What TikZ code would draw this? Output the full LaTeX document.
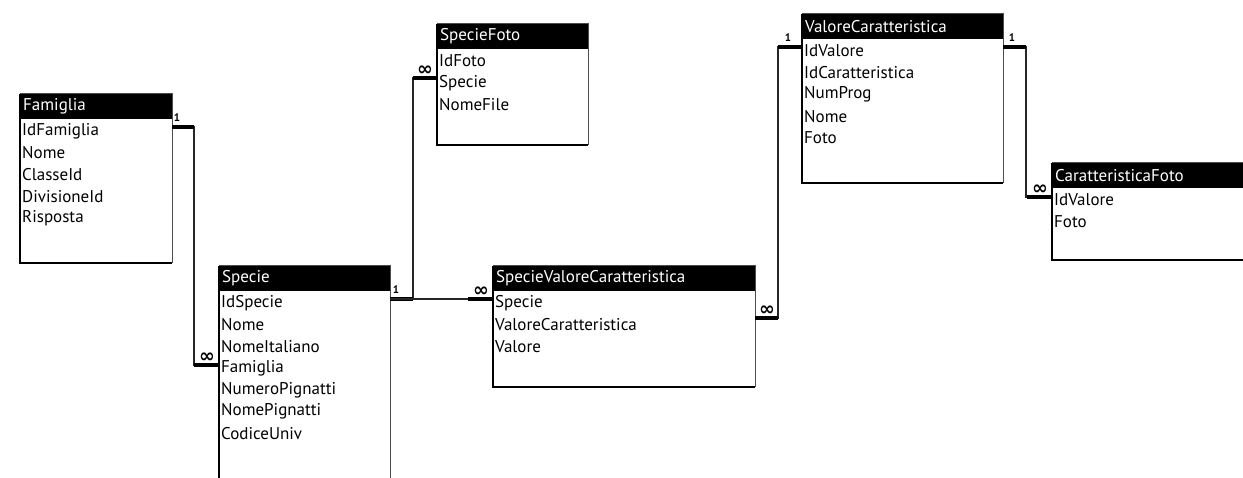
\documentclass[tikz,border=0pt]{standalone}
\usepackage{fontspec}
\setmainfont{PT Sans}
\newfontfamily\symfont{DejaVu Sans}
\usetikzlibrary{calc}
\tikzset{
  tbody/.style={draw=black!70, line width=1pt, fill=white, inner sep=0pt, outer sep=0pt},
  hdr/.style={fill=black},
  htext/.style={text=white, font=\fontsize{17}{19}\selectfont, inner sep=0pt, anchor=west},
  rtext/.style={text=black, font=\fontsize{17}{19}\selectfont, inner sep=0pt, anchor=west},
  conn/.style={line width=1.3pt, draw=black!85},
  stub/.style={line width=4pt, draw=black},
  onelbl/.style={font=\bfseries\fontsize{11}{11}\selectfont, inner sep=0pt},
  manylbl/.style={font=\symfont\bfseries\fontsize{19}{19}\selectfont, inner sep=0pt}
}
\newcommand\dbtable[7]{%
  \node[tbody, anchor=north west, minimum width={#4-#2}, minimum height={#5-#3}] (#1) at (#2,#3) {};
  \fill[hdr] (#1.north west) rectangle ($(#1.north east)+(0,25)$);
  \draw[line width=2.4pt] (#1.north west) -- (#1.south west) -- (#1.south east);
  \node[htext] (#1-title) at ($(#1.north west)+(3,12.5)$) {#6};
  \foreach \r [count=\i] in {#7} {\node[rtext] (#1-r\i) at ($(#1.north west)+(2,{25+12+(\i-1)*21.7})$) {\r};}
}
\begin{document}
\begin{tikzpicture}[x=1pt,y=-1pt]
\clip (0,0) rectangle (1243,478);
\fill[white] (0,0) rectangle (1243,478);

\dbtable{fam}{20}{94}{172}{263}{Famiglia}{IdFamiglia,Nome,ClasseId,DivisioneId,Risposta}
\dbtable{spe}{219}{266}{390}{495}{Specie}{IdSpecie,Nome,NomeItaliano,Famiglia,NumeroPignatti,NomePignatti,CodiceUniv}
\dbtable{sfo}{437}{24}{588}{145}{SpecieFoto}{IdFoto,Specie,NomeFile}
\dbtable{svc}{493}{266}{755}{387}{SpecieValoreCaratteristica}{Specie,ValoreCaratteristica,Valore}
\dbtable{vc}{802}{14}{1003}{183}{ValoreCaratteristica}{IdValore,IdCaratteristica,NumProg,Nome,Foto}
\dbtable{cf}{1052}{163}{1246}{260}{CaratteristicaFoto}{IdValore,Foto}

% connector end points
\coordinate (famR) at ($(fam.north east)+(0,33)$);
\coordinate (speL) at ($(spe.north west)+(0,99)$);
\coordinate (speR) at ($(spe.north east)+(0,33)$);
\coordinate (sfoL) at ($(sfo.north west)+(0,54)$);
\coordinate (svcL) at ($(svc.north west)+(0,33)$);
\coordinate (svcR) at ($(svc.north east)+(0,52)$);
\coordinate (vcL) at ($(vc.north west)+(0,33)$);
\coordinate (vcR) at ($(vc.north east)+(0,33)$);
\coordinate (cfL) at ($(cf.north west)+(0,34)$);

% Famiglia -> Specie
\draw[conn] (famR) -- ++(22,0) |- (speL);
\draw[stub] (famR) -- ++(22,0);
\draw[stub] (speL) -- ++(-25,0);
\node[onelbl] (l1) at ($(famR)+(5,-9)$) {1};
\node[manylbl] (m1) at ($(speL)+(-12,-7)$) {∞};

% Specie -> SpecieFoto
\draw[conn] (speR) -- ++(23,0) |- (sfoL);
\draw[stub] (speR) -- ++(23,0);
\draw[stub] (sfoL) -- ++(-24,0);
\node[onelbl] (l2) at ($(speR)+(6,-9)$) {1};
\node[manylbl] (m2) at ($(sfoL)+(-12,-7)$) {∞};

% Specie -> SpecieValoreCaratteristica
\draw[conn] (speR) -- (svcL);
\draw[stub] (svcL) -- ++(-25,0);
\node[manylbl] (m3) at ($(svcL)+(-12,-7)$) {∞};

% ValoreCaratteristica -> SpecieValoreCaratteristica
\draw[conn] (vcL) -- ++(-24,0) |- (svcR);
\draw[stub] (vcL) -- ++(-24,0);
\draw[stub] (svcR) -- ++(23,0);
\node[onelbl] (l4) at ($(vcL)+(-14,-9)$) {1};
\node[manylbl] (m4) at ($(svcR)+(12,-7)$) {∞};

% ValoreCaratteristica -> CaratteristicaFoto
\draw[conn] (vcR) -- ++(23,0) |- (cfL);
\draw[stub] (vcR) -- ++(23,0);
\draw[stub] (cfL) -- ++(-25,0);
\node[onelbl] (l5) at ($(vcR)+(9,-9)$) {1};
\node[manylbl] (m5) at ($(cfL)+(-12,-7)$) {∞};
\end{tikzpicture}
\end{document}
